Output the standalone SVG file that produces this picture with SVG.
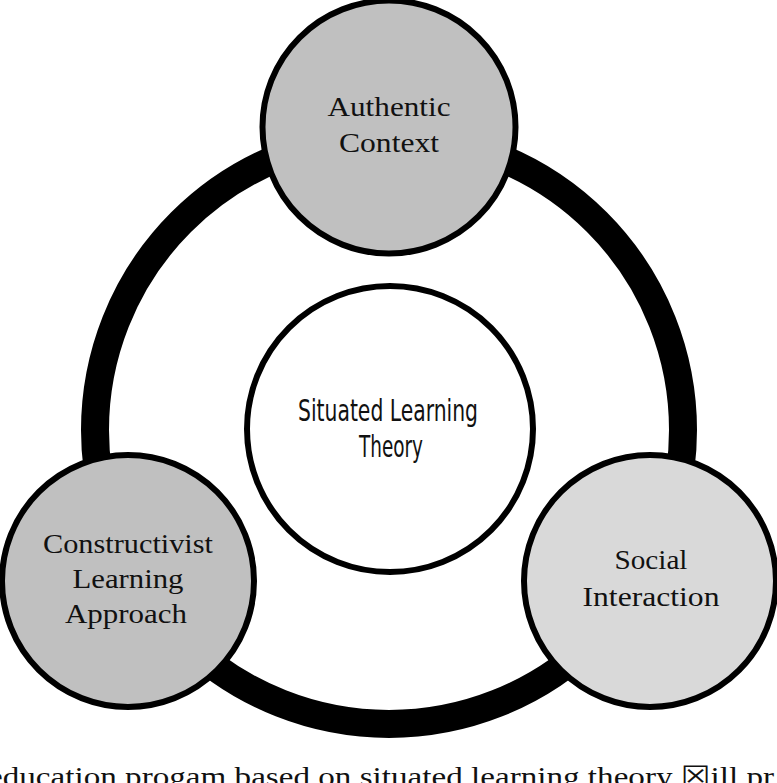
<svg xmlns="http://www.w3.org/2000/svg" width="777" height="783" viewBox="0 0 777 783">
<style>
.node{stroke:#000;stroke-width:6}
.serif{font-family:"Liberation Serif","DejaVu Serif",serif;font-size:28px;fill:#111;text-anchor:middle}
.cond{font-family:"Liberation Sans Narrow","DejaVu Sans Condensed","Liberation Sans",sans-serif;font-size:30px;fill:#111;text-anchor:middle}
.cap{font-family:"Liberation Serif","DejaVu Serif",serif;font-size:28px;fill:#111}
</style>
<rect width="777" height="783" fill="#fff"/>
<g id="connectors">
<circle cx="389" cy="430" r="294" fill="none" stroke="#000" stroke-width="28"/>
</g>
<g id="node-authentic">
<circle class="node" cx="389" cy="127" r="126.5" fill="#c0c0c0"/>
<text class="serif" x="389" y="116" textLength="123" lengthAdjust="spacingAndGlyphs">Authentic</text>
<text class="serif" x="389" y="152" textLength="100" lengthAdjust="spacingAndGlyphs">Context</text>
</g>
<g id="node-constructivist">
<circle class="node" cx="128" cy="581" r="126" fill="#c0c0c0"/>
<text class="serif" x="128" y="553" textLength="170" lengthAdjust="spacingAndGlyphs">Constructivist</text>
<text class="serif" x="128" y="588" textLength="111" lengthAdjust="spacingAndGlyphs">Learning</text>
<text class="serif" x="126" y="623" textLength="122" lengthAdjust="spacingAndGlyphs">Approach</text>
</g>
<g id="node-social">
<circle class="node" cx="650" cy="581" r="126" fill="#d9d9d9"/>
<text class="serif" x="651" y="569" textLength="73" lengthAdjust="spacingAndGlyphs">Social</text>
<text class="serif" x="651" y="606" textLength="137" lengthAdjust="spacingAndGlyphs">Interaction</text>
</g>
<g id="node-center">
<circle class="node" cx="390" cy="429" r="143" fill="#fff"/>
<text class="cond" x="388" y="421" textLength="180" lengthAdjust="spacingAndGlyphs">Situated Learning</text>
<text class="cond" x="391" y="457" textLength="64" lengthAdjust="spacingAndGlyphs">Theory</text>
</g>
<text class="cap" x="-12" y="786" textLength="786" lengthAdjust="spacingAndGlyphs">education progam based on situated learning theory <tspan font-family="DejaVu Sans">☒</tspan>ill pr</text>
</svg>
